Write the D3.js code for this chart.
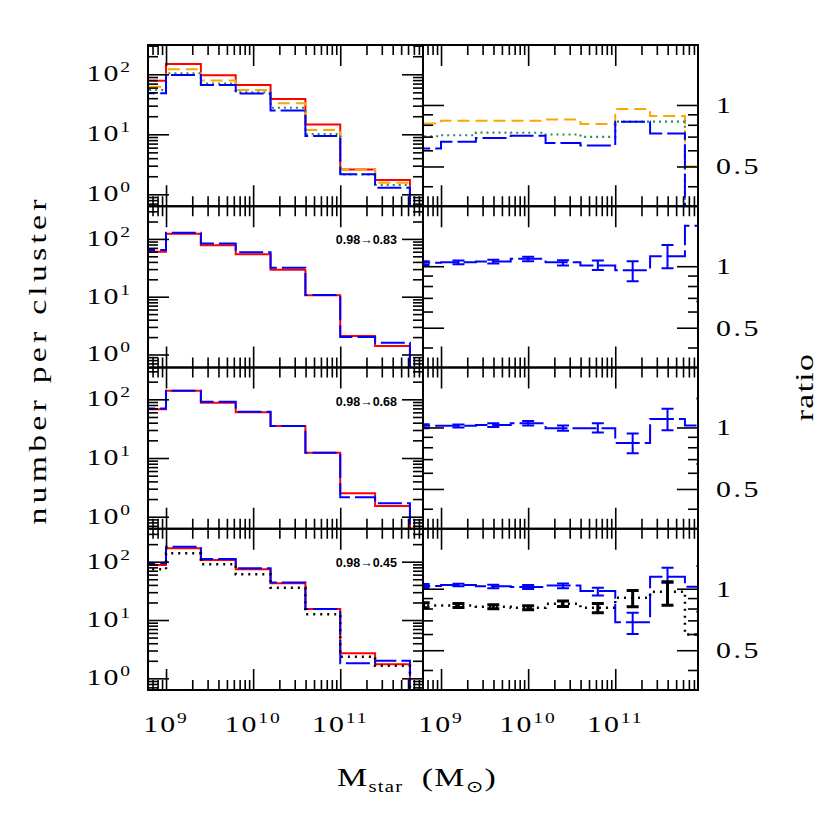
<!DOCTYPE html>
<html>
<head>
<meta charset="utf-8">
<script src="https://cdn.jsdelivr.net/npm/d3@7"></script>
<style>
  body { margin: 0; background: #fff; }
</style>
</head>
<body>
<div id="chart"></div>
<script>
// log10(Mstar/Msun) bin edges and centres
const binEdges = [8.6, 9.0, 9.4, 9.8, 10.2, 10.6, 11.0, 11.4, 11.8, 12.2];
const binCenters = [8.8, 9.2, 9.6, 10.0, 10.4, 10.8, 11.2, 11.6, 12.0];

// number per cluster
const row1Red    = [78, 148, 96, 66, 38.7, 14.5, 2.6, 1.73, 0.1];
const row1Orange = [62, 121, 79, 54.7, 32.9, 11.8, 2.54, 1.56, 0.1];
const row1Green  = [54.7, 104, 70, 50, 27.7, 10.1, 2.15, 1.43, 0.1];
const row1Blue   = [48.2, 97, 66, 48, 25, 9.4, 2.15, 1.29, 0.1];
const row2Red    = [60, 123, 78, 54, 29.3, 10.6, 2.09, 1.40, 0.1];
const row2Blue   = [64, 128, 83, 58.6, 31.8, 10.7, 2.0, 1.6, 0.1];
const row3Red    = [67.6, 140, 87.5, 60, 35, 12.3, 2.5, 1.52, 0.1];
const row3Blue   = [70, 140, 91, 61.5, 35, 12.3, 2.14, 1.69, 0.1];
const row4Red    = [87.8, 170, 107, 74, 42.6, 15.4, 2.69, 1.74, 0.1];
const row4Blue   = [93.8, 181, 111, 77, 44, 15.4, 1.81, 2.0, 0.1];
const row4Black  = [74, 139, 90, 60.8, 35.8, 12.5, 2.35, 1.64, 0.1];

// ratios to the red histogram
const row1OrangeRatio = [0.812, 0.837, 0.837, 0.837, 0.85, 0.806, 0.956, 0.883, 0.5];
const row1GreenRatio  = [0.703, 0.711, 0.733, 0.731, 0.717, 0.698, 0.828, 0.828, 0.1];
const row1BlueRatio   = [0.612, 0.66, 0.69, 0.706, 0.652, 0.633, 0.828, 0.725, 0.1];

const row2Ratio   = [1.039, 1.046, 1.054, 1.087, 1.046, 1.008, 0.956, 1.12, 1.576];
const row2RatioLo = [1.015, 1.023, 1.031, 1.058, 1.008, 0.959, 0.843, 0.977, 0.672];
const row2RatioHi = [1.058, 1.066, 1.075, 1.112, 1.07, 1.066, 1.058, 1.27, 3.0];

const row3Ratio   = [1.019, 1.019, 1.027, 1.05, 0.992, 0.992, 0.84, 1.099, 1.023];
const row3RatioLo = [0.992, 1.0, 1.004, 1.023, 0.963, 0.945, 0.747, 0.97, 0.662];
const row3RatioHi = [1.038, 1.035, 1.05, 1.075, 1.023, 1.05, 0.934, 1.236, 1.385];

const row4BlueRatio   = [1.031, 1.042, 1.027, 1.019, 1.038, 0.974, 0.686, 1.145, 1.023];
const row4BlueRatioLo = [1.008, 1.027, 1.004, 0.996, 1.004, 0.927, 0.601, 1.07, 0.771];
const row4BlueRatioHi = [1.054, 1.058, 1.046, 1.042, 1.062, 1.011, 0.763, 1.268, 1.292];
const row4BlackRatio   = [0.828, 0.828, 0.816, 0.807, 0.844, 0.807, 0.903, 0.967, 0.597];
const row4BlackRatioLo = [0.807, 0.81, 0.798, 0.789, 0.819, 0.762, 0.816, 0.831, 0.597];
const row4BlackRatioHi = [0.854, 0.847, 0.835, 0.825, 0.87, 0.847, 0.981, 1.082, 0.597];

const redshiftLabels = [null, '0.98\u21920.83', '0.98\u21920.68', '0.98\u21920.45'];
const xTickExps = [9, 10, 11];
const countTickExps = [0, 1, 2];
const ratioTickLabels = ['1', '0.5'];
const ratioTickValues = [1, 0.5];

// axis ranges (log10)
const xLogDomain = [8.793, 11.95];
const countLogDomains = [[-0.199, 2.488], [-0.225, 2.565], [-0.205, 2.542], [-0.2, 2.565]];
const ratioDomain = [0.3193, 1.966];

// layout
const colLeft = [148, 423];
const panelW = 275;
const rowTop = [45, 206.25, 367.5, 528.75];
const panelH = 161.25;
const stretch = 1.3;

const styles = {
    red:    { color: '#ff0000', dash: null,    width: 2 },
    orange: { color: '#ffa500', dash: '12,6',  width: 2 },
    green:  { color: '#2e8b57', dash: '2,4',   width: 2.2 },
    blue:   { color: '#0000ff', dash: '24,5',  width: 2 },
    black:  { color: '#000000', dash: '2,5',   width: 2.5 }
};

const rows = [
    { counts: [['red', row1Red], ['orange', row1Orange], ['green', row1Green], ['blue', row1Blue]],
      ratios: [['orange', row1OrangeRatio], ['green', row1GreenRatio], ['blue', row1BlueRatio]] },
    { counts: [['red', row2Red], ['blue', row2Blue]],
      ratios: [['blue', row2Ratio, row2RatioLo, row2RatioHi]] },
    { counts: [['red', row3Red], ['blue', row3Blue]],
      ratios: [['blue', row3Ratio, row3RatioLo, row3RatioHi]] },
    { counts: [['red', row4Red], ['blue', row4Blue], ['black', row4Black]],
      ratios: [['blue', row4BlueRatio, row4BlueRatioLo, row4BlueRatioHi],
               ['black', row4BlackRatio, row4BlackRatioLo, row4BlackRatioHi]] }
];

const svg = d3.select('#chart').append('svg')
    .attr('width', 830)
    .attr('height', 830)
    .style('font-family', '"Liberation Serif", serif');

const defs = svg.append('defs');

const isPow10 = v => Math.abs(Math.log10(v) - Math.round(Math.log10(v))) < 1e-6;

function histPoints(vals) {
    const pts = vals.map((v, i) => [binEdges[i], v]);
    pts.push([binEdges[vals.length], vals[vals.length - 1]]);
    return pts;
}

function drawTicks(g, xs, ys, top, bottom, left, right, majorY) {
    const xt = xs.ticks().filter(v => v >= xs.domain()[0] && v <= xs.domain()[1]);
    const yt = ys.ticks().filter(v => v >= ys.domain()[0] && v <= ys.domain()[1]);
    const xMaj = xt.filter(isPow10), xMin = xt.filter(v => !isPow10(v));
    const yMaj = yt.filter(majorY), yMin = yt.filter(v => !majorY(v));
    const sets = [
        [d3.axisBottom(xs), `translate(0,${top})`, xMin, xMaj],
        [d3.axisTop(xs), `translate(0,${bottom})`, xMin, xMaj],
        [d3.axisRight(ys), `translate(${left},0)`, yMin, yMaj],
        [d3.axisLeft(ys), `translate(${right},0)`, yMin, yMaj]
    ];
    sets.forEach(([axis, tr, minor, major]) => {
        [[minor, 10], [major, 21]].forEach(([vals, size]) => {
            const a = g.append('g')
                .attr('transform', tr)
                .call(axis.tickValues(vals).tickSize(size).tickFormat(''));
            a.select('.domain').remove();
            a.selectAll('line').attr('stroke', '#000').attr('stroke-width', 1.6);
        });
    });
}

function powLabel(x, y, exp, anchor) {
    const t = svg.append('text')
        .attr('transform', `translate(${x},${y}) scale(${stretch},1)`)
        .attr('text-anchor', anchor)
        .attr('letter-spacing', 1.5)
        .attr('font-size', 23);
    t.append('tspan').text('10');
    t.append('tspan').attr('dy', -9).attr('font-size', 15).text(exp);
}

rows.forEach((row, r) => {
    const top = rowTop[r], bottom = top + panelH;
    const yCount = d3.scaleLog()
        .domain(countLogDomains[r].map(v => Math.pow(10, v)))
        .range([bottom, top]);
    const yRatio = d3.scaleLog().domain(ratioDomain).range([bottom, top]);

    [0, 1].forEach(c => {
        const left = colLeft[c], right = left + panelW;
        const xs = d3.scaleLog()
            .domain(xLogDomain.map(v => Math.pow(10, v)))
            .range([left, right]);
        const ys = c === 0 ? yCount : yRatio;
        const clipId = `clip-${r}-${c}`;
        defs.append('clipPath').attr('id', clipId)
            .append('rect')
            .attr('x', left).attr('y', top)
            .attr('width', panelW).attr('height', panelH);

        const g = svg.append('g');
        const plot = g.append('g').attr('clip-path', `url(#${clipId})`);
        const line = d3.line()
            .x(d => xs(Math.pow(10, d[0])))
            .y(d => ys(d[1]))
            .curve(d3.curveStepAfter);

        const series = c === 0 ? row.counts : row.ratios;
        series.forEach(([key, vals, lo, hi]) => {
            const st = styles[key];
            plot.append('path')
                .datum(histPoints(vals))
                .attr('d', line)
                .attr('fill', 'none')
                .attr('stroke', st.color)
                .attr('stroke-width', st.width)
                .attr('stroke-dasharray', st.dash);
            if (lo) {
                const eb = plot.append('g').selectAll('g')
                    .data(vals.map((v, i) => ({ c: binCenters[i], lo: lo[i], hi: hi[i] })))
                    .enter().append('g')
                    .attr('stroke', st.color)
                    .attr('stroke-width', key === 'black' ? 3 : 2);
                eb.append('line')
                    .attr('x1', d => xs(Math.pow(10, d.c))).attr('x2', d => xs(Math.pow(10, d.c)))
                    .attr('y1', d => ys(d.lo)).attr('y2', d => ys(d.hi));
                ['lo', 'hi'].forEach(k => {
                    eb.append('line')
                        .attr('x1', d => xs(Math.pow(10, d.c)) - 6)
                        .attr('x2', d => xs(Math.pow(10, d.c)) + 6)
                        .attr('y1', d => ys(d[k])).attr('y2', d => ys(d[k]));
                });
            }
        });

        drawTicks(g, xs, ys, top, bottom, left, right,
            c === 0 ? isPow10 : (v => Math.abs(v - 1) < 1e-6 || Math.abs(v - 0.5) < 1e-6));

        g.append('rect')
            .attr('x', left).attr('y', top)
            .attr('width', panelW).attr('height', panelH)
            .attr('fill', 'none')
            .attr('stroke', '#000')
            .attr('stroke-width', 2);

        if (r === 3) {
            xTickExps.forEach(e => powLabel(xs(Math.pow(10, e)), bottom + 42, e, 'middle'));
        }
    });

    // left labels
    countTickExps.forEach(e => powLabel(132, yCount(Math.pow(10, e)) + 7, e, 'end'));

    // right labels
    ratioTickValues.forEach((v, i) => {
        svg.append('text')
            .attr('transform', `translate(716,${yRatio(v) + 8}) scale(${stretch},1)`)
            .attr('font-size', 23)
            .attr('letter-spacing', 2)
            .text(ratioTickLabels[i]);
    });

    if (redshiftLabels[r]) {
        svg.append('text')
            .attr('x', 397).attr('y', top + 38)
            .attr('text-anchor', 'end')
            .attr('font-family', '"Liberation Sans", Arial, sans-serif')
            .attr('font-weight', 'bold')
            .attr('font-size', 12.5)
            .text(redshiftLabels[r]);
    }
});

// axis titles
svg.append('text')
    .attr('transform', `translate(46,362) rotate(-90) scale(${stretch},1)`)
    .attr('text-anchor', 'middle')
    .attr('font-size', 26)
    .attr('textLength', 325 / stretch)
    .attr('lengthAdjust', 'spacing')
    .text('number per cluster');

svg.append('text')
    .attr('transform', `translate(813,387) rotate(-90) scale(${stretch},1)`)
    .attr('text-anchor', 'middle')
    .attr('font-size', 26)
    .attr('letter-spacing', 1)
    .text('ratio');

const title = svg.append('text')
    .attr('transform', `translate(417,786) scale(${stretch},1)`)
    .attr('text-anchor', 'middle')
    .attr('font-size', 26)
    .attr('letter-spacing', 1);
title.append('tspan').text('M');
title.append('tspan').attr('dy', 6).attr('font-size', 16).text('star');
title.append('tspan').attr('dy', -6).text('\u2002(M');
title.append('tspan').attr('dy', 6).attr('font-size', 16)
    .attr('font-family', '"DejaVu Sans", sans-serif').text('\u2299');
title.append('tspan').attr('dy', -6).text(')');
</script>
</body>
</html>
